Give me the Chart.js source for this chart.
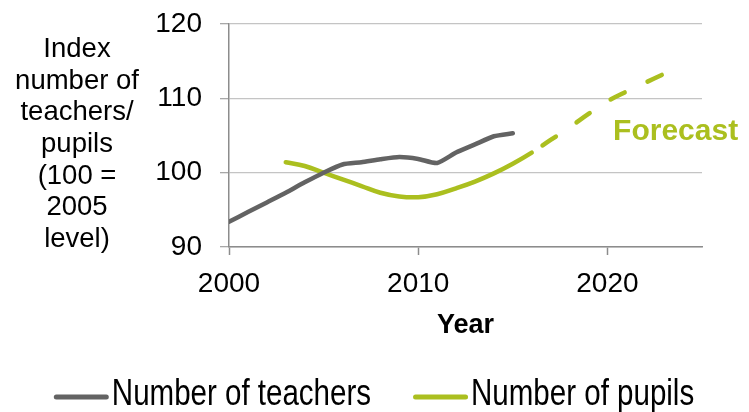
<!DOCTYPE html>
<html>
<head>
<meta charset="utf-8">
<script src="https://cdn.jsdelivr.net/npm/chart.js@4.4.0/dist/chart.umd.min.js"></script>
<style>
  html, body { margin: 0; padding: 0; background: #fff; }
</style>
</head>
<body>
<canvas id="chart" width="749" height="412"></canvas>
<script>
// values
const teacherYears = [2000, 2001, 2002, 2003, 2004, 2005, 2006, 2007, 2008, 2009, 2010, 2011, 2012, 2013, 2014, 2015];
const teacherValues = [93.4, 94.7, 96.0, 97.3, 98.7, 100, 101.1, 101.4, 101.8, 102.1, 101.85, 101.3, 102.7, 103.8, 104.9, 105.3];

const pupilYears = [2003, 2004, 2005, 2006, 2007, 2008, 2009, 2010, 2011, 2012, 2013, 2014, 2015, 2016, 2017, 2018, 2019, 2020, 2021, 2022, 2023];
const pupilValues = [101.4, 100.9, 100, 99.1, 98.2, 97.3, 96.8, 96.7, 97.1, 97.9, 98.8, 99.9, 101.2, 102.7, 104.4, 106.1, 107.9, 109.6, 110.9, 112.1, 113.3];

const forecastFrom = 2016;
const xTickValues = [2000, 2010, 2020];
const seriesLabels = ["Number of teachers", "Number of pupils"];
const yTitleLines = ["Index", "number of", "teachers/", "pupils", "(100 =", "2005", "level)"];
const forecastLabel = "Forecast";

const GRAY = "#636363";
const GREEN = "#abbf1f";
const AXIS = "#8c8c8c";
const FONT = "'Liberation Sans', Arial, sans-serif";

const toPoints = (xs, ys) => xs.map((x, i) => ({ x: x, y: ys[i] }));

const extraText = {
  id: "extraText",
  afterDraw(chart) {
    const ctx = chart.ctx;
    const xs = chart.scales.x, ys = chart.scales.y;
    ctx.save();

    // horizontal y axis title
    ctx.fillStyle = "#000";
    ctx.font = "27.5px " + FONT;
    ctx.textAlign = "center";
    ctx.textBaseline = "alphabetic";
    yTitleLines.forEach((line, i) => {
      ctx.fillText(line, 77, 57 + i * 31.67);
    });

    // forecast note
    ctx.fillStyle = GREEN;
    ctx.font = "bold 30px " + FONT;
    ctx.textAlign = "left";
    ctx.fillText(forecastLabel, xs.getPixelForValue(2020.3), ys.getPixelForValue(104.4));

    // legend (narrow face emulated by a horizontal squeeze)
    const squeeze = 0.82;
    ctx.font = "36px " + FONT;
    const colors = chart.data.datasets.map(d => d.borderColor);
    const marker = 55, gap = 3, spacing = 42;
    const widths = seriesLabels.map(t => ctx.measureText(t).width * squeeze);
    const total = widths.reduce((a, w) => a + marker + gap + w, 0) + spacing;
    let x = 374 - total / 2;
    const baseY = 405;
    seriesLabels.forEach((t, i) => {
      ctx.strokeStyle = colors[i];
      ctx.lineWidth = 5;
      ctx.lineCap = "round";
      ctx.beginPath();
      ctx.moveTo(x + 2.5, 397);
      ctx.lineTo(x + marker - 2.5, 397);
      ctx.stroke();
      ctx.save();
      ctx.translate(x + marker + gap, baseY);
      ctx.scale(squeeze, 1);
      ctx.fillStyle = "#000";
      ctx.fillText(t, 0, 0);
      ctx.restore();
      x += marker + gap + widths[i] + spacing;
    });
    ctx.restore();
  }
};

new Chart(document.getElementById("chart"), {
  type: "line",
  data: {
    datasets: [
      {
        label: seriesLabels[0],
        data: toPoints(teacherYears, teacherValues),
        borderColor: GRAY,
        borderWidth: 4.5,
        tension: 0.2,
        pointRadius: 0,
        borderCapStyle: "round",
        borderJoinStyle: "round"
      },
      {
        label: seriesLabels[1],
        data: toPoints(pupilYears, pupilValues),
        borderColor: GREEN,
        borderWidth: 4.5,
        tension: 0.4,
        pointRadius: 0,
        borderCapStyle: "round",
        borderJoinStyle: "round",
        borderDashOffset: 28,
        segment: {
          borderDash: c => (c.p0.parsed.x >= forecastFrom ? [16, 25] : undefined)
        }
      }
    ]
  },
  options: {
    responsive: false,
    animation: false,
    layout: { padding: { left: 0, right: 47, top: 24, bottom: 70 } },
    plugins: { legend: { display: false }, tooltip: { enabled: false } },
    scales: {
      x: {
        type: "linear",
        min: 2000,
        max: 2025,
        afterBuildTicks: s => { s.ticks = xTickValues.map(v => ({ value: v })); },
        afterFit: s => { s.height = 95; s.paddingLeft = 0; s.paddingRight = 0; },
        grid: { drawOnChartArea: false, drawTicks: true, tickLength: 8, tickColor: AXIS, tickWidth: 1.5 },
        border: { display: true, color: AXIS, width: 1.5 },
        ticks: { font: { family: FONT, size: 28 }, color: "#000", padding: 12, maxRotation: 0, callback: v => String(v) },
        title: { display: true, text: "Year", color: "#000", font: { family: FONT, size: 27, weight: "bold" }, padding: { top: 0, bottom: 0 } }
      },
      y: {
        min: 90,
        max: 120,
        afterFit: s => { s.width = 229; s.paddingTop = 0; s.paddingBottom = 0; },
        ticks: { stepSize: 10, font: { family: FONT, size: 28 }, color: "#000", padding: 18 },
        grid: { color: "#c4c4c4", lineWidth: 1.3, tickLength: 9, tickColor: "#a8a8a8" },
        border: { display: true, color: AXIS, width: 1.5 }
      }
    }
  },
  plugins: [extraText]
});
</script>
</body>
</html>
